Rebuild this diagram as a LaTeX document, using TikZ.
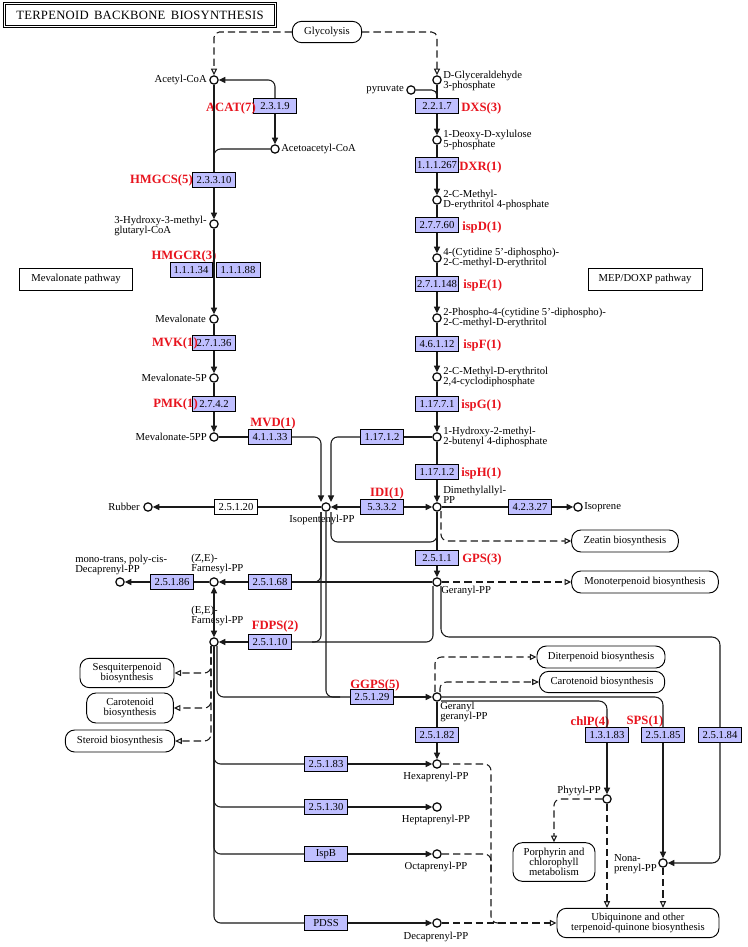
\documentclass[tikz,border=0pt]{standalone}
\usepackage{fontspec}
\setmainfont{Liberation Serif}
\usetikzlibrary{arrows.meta}
\definecolor{enzfill}{HTML}{BFBFFF}
\definecolor{kred}{HTML}{E8141E}
\definecolor{lnc}{HTML}{1A1A1A}
\tikzset{
  cpd/.style={circle,draw=black,fill=white,line width=0.9pt,minimum size=6.2pt,inner sep=0pt},
  enz/.style={draw=black,fill=enzfill,line width=0.7pt,minimum width=32pt,minimum height=11pt,inner sep=0pt,font=\fontsize{8}{9}\selectfont},
  refenz/.style={enz,fill=white},
  mapbox/.style={draw=black,fill=white,line width=0.7pt,rounded corners=7pt,inner sep=0pt,align=center,font=\fontsize{8}{7.5}\selectfont},
  sqbox/.style={mapbox,rounded corners=0pt},
  lab/.style={inner sep=0pt,align=left,font=\fontsize{8}{7.5}\selectfont},
  labc/.style={lab,align=center},
  rlab/.style={inner sep=0pt,text=kred,font=\fontsize{9.5}{10}\selectfont\bfseries},
  rx/.style={line width=0.8pt,draw=lnc},
  dsh/.style={line width=0.8pt,draw=lnc,dash pattern=on 5.5pt off 3pt},
  arr/.style={-{Triangle[length=5pt,width=4.6pt]}},
  oarr/.style={-{Triangle[open,length=5pt,width=4.6pt]}},
  titlebox/.style={draw=black,double=white,line width=0.9pt,double distance=0.9pt,minimum width=203pt,minimum height=17pt,inner sep=0pt,font=\fontsize{9.5}{11}\selectfont}
}
\begin{document}
\begin{tikzpicture}[x=0.75pt,y=-0.75pt]
\useasboundingbox (0,0) rectangle (748,947);
\fill[white] (0,0) rectangle (748,947);

% title and pathway boxes
\node[titlebox] (title) at (140,15) {\addfontfeature{LetterSpace=2}TERPENOID\hspace{4pt}BACKBONE\hspace{4pt}BIOSYNTHESIS};
\node[mapbox,minimum width=52pt,minimum height=16pt] (gly) at (327,32) {Glycolysis};
\node[sqbox,minimum width=85pt,minimum height=16.5pt] (mevpath) at (76,279) {Mevalonate pathway};
\node[sqbox,minimum width=85.5pt,minimum height=16.5pt] (meppath) at (645,279) {MEP/DOXP pathway};
\node[mapbox,minimum width=80pt,minimum height=16.5pt] (zeatin) at (625,541) {Zeatin biosynthesis};
\node[mapbox,minimum width=110pt,minimum height=16.5pt] (monot) at (645,582) {Monoterpenoid biosynthesis};
\node[mapbox,minimum width=96pt,minimum height=16.5pt] (diterp) at (601,657) {Diterpenoid biosynthesis};
\node[mapbox,minimum width=94pt,minimum height=16pt] (carotR) at (602,682) {Carotenoid biosynthesis};
\node[mapbox,minimum width=70.5pt,minimum height=22pt] (sesq) at (127,673) {Sesquiterpenoid\\biosynthesis};
\node[mapbox,minimum width=65pt,minimum height=22.5pt] (carotL) at (130,708) {Carotenoid\\biosynthesis};
\node[mapbox,minimum width=82pt,minimum height=16.5pt] (steroid) at (120,741) {Steroid biosynthesis};
\node[mapbox,minimum width=61.5pt,minimum height=29pt] (porph) at (554,862) {Porphyrin and\\chlorophyll\\metabolism};
\node[mapbox,minimum width=121.5pt,minimum height=22pt] (ubiq) at (638,923) {Ubiquinone and other\\terpenoid-quinone biosynthesis};

% compounds
\node[cpd] (acoa) at (214,80) {};
\node[cpd] (aacoa) at (275,149) {};
\node[cpd] (hmg) at (214,224) {};
\node[cpd] (mev) at (214,319) {};
\node[cpd] (mevp) at (214,378) {};
\node[cpd] (mevpp) at (214,437) {};
\node[cpd] (ipp) at (326,507) {};
\node[cpd] (rubber) at (148,507) {};
\node[cpd] (dmapp) at (437,507) {};
\node[cpd] (isop) at (578,507) {};
\node[cpd] (gpp) at (437,582) {};
\node[cpd] (zefpp) at (214,582) {};
\node[cpd] (mtpc) at (120,582) {};
\node[cpd] (eefpp) at (214,642) {};
\node[cpd] (ggpp) at (437,697) {};
\node[cpd] (hexpp) at (437,764) {};
\node[cpd] (heppp) at (437,807) {};
\node[cpd] (octpp) at (437,854) {};
\node[cpd] (decpp) at (437,923) {};
\node[cpd] (phyt) at (607,799) {};
\node[cpd] (nonpp) at (663,863) {};
\node[cpd] (gap) at (437,80) {};
\node[cpd] (pyr) at (411,90) {};
\node[cpd] (dxp) at (437,140) {};
\node[cpd] (mep) at (437,200) {};
\node[cpd] (cdpme) at (437,258) {};
\node[cpd] (cdpmep) at (437,318) {};
\node[cpd] (mecpp) at (437,377) {};
\node[cpd] (hmbpp) at (437,437) {};

% compound labels
\node[lab,anchor=east] (lacoa) at (207,80) {Acetyl-CoA};
\node[lab,anchor=west] (laacoa) at (281,149) {Acetoacetyl-CoA};
\node[lab,anchor=east] (lhmg) at (207,226) {3-Hydroxy-3-methyl-\\glutaryl-CoA};
\node[lab,anchor=east] (lmev) at (206,319) {Mevalonate};
\node[lab,anchor=east] (lmevp) at (207,378) {Mevalonate-5P};
\node[lab,anchor=east] (lmevpp) at (207,437) {Mevalonate-5PP};
\node[labc] (lipp) at (322,520) {Isopentenyl-PP};
\node[lab,anchor=east] (lrubber) at (140,507) {Rubber};
\node[lab,anchor=west] (ldmapp) at (443,495) {Dimethylallyl-\\PP};
\node[lab,anchor=west] (lisop) at (584,507) {Isoprene};
\node[lab,anchor=west] (lgpp) at (441,591) {Geranyl-PP};
\node[lab,anchor=west] (lzefpp) at (191,564) {(Z,E)-\\Farnesyl-PP};
\node[lab,anchor=west] (lmtpc) at (75,565) {mono-trans, poly-cis-\\Decaprenyl-PP};
\node[lab,anchor=west] (leefpp) at (191,616) {(E,E)-\\Farnesyl-PP};
\node[lab,anchor=west] (lggpp) at (440,712) {Geranyl\\geranyl-PP};
\node[labc] (lhexpp) at (436,777) {Hexaprenyl-PP};
\node[labc] (lheppp) at (436,820) {Heptaprenyl-PP};
\node[labc] (locpp) at (436,867) {Octaprenyl-PP};
\node[labc] (ldecpp) at (436,937) {Decaprenyl-PP};
\node[lab,anchor=east] (lphyt) at (601,791) {Phytyl-PP};
\node[lab,anchor=east] (lnonpp) at (657,864) {Nona-\\prenyl-PP};
\node[lab,anchor=west] (lgap) at (443,81) {D-Glyceraldehyde\\3-phosphate};
\node[lab,anchor=east] (lpyr) at (404,90) {pyruvate};
\node[lab,anchor=west] (ldxp) at (443,140) {1-Deoxy-D-xylulose\\5-phosphate};
\node[lab,anchor=west] (lmep) at (443,200) {2-C-Methyl-\\D-erythritol 4-phosphate};
\node[lab,anchor=west] (lcdpme) at (443,258) {4-(Cytidine 5'-diphospho)-\\2-C-methyl-D-erythritol};
\node[lab,anchor=west] (lcdpmep) at (443,318) {2-Phospho-4-(cytidine 5'-diphospho)-\\2-C-methyl-D-erythritol};
\node[lab,anchor=west] (lmecpp) at (443,377) {2-C-Methyl-D-erythritol\\2,4-cyclodiphosphate};
\node[lab,anchor=west] (lhmbpp) at (443,437) {1-Hydroxy-2-methyl-\\2-butenyl 4-diphosphate};

% enzymes
\node[enz] (eA) at (275,106) {2.3.1.9};
\node[enz] (eB) at (214,180) {2.3.3.10};
\node[enz,minimum width=31.5pt] (eC1) at (191,270) {1.1.1.34};
\node[enz,minimum width=33pt] (eC2) at (238,270) {1.1.1.88};
\node[enz] (eD) at (214,343) {2.7.1.36};
\node[enz] (eE) at (214,404) {2.7.4.2};
\node[enz] (eF) at (270,437) {4.1.1.33};
\node[enz] (eG) at (382,437) {1.17.1.2};
\node[refenz] (eR) at (236,507) {2.5.1.20};
\node[enz] (eI) at (382,507) {5.3.3.2};
\node[enz] (eIs) at (530,507) {4.2.3.27};
\node[enz] (eGPS) at (437,558) {2.5.1.1};
\node[enz] (e68) at (270,582) {2.5.1.68};
\node[enz] (e86) at (172,582) {2.5.1.86};
\node[enz] (e10) at (270,642) {2.5.1.10};
\node[enz] (e29) at (372,697) {2.5.1.29};
\node[enz] (e82) at (437,735) {2.5.1.82};
\node[enz] (e83c) at (607,735) {1.3.1.83};
\node[enz] (e85) at (663,735) {2.5.1.85};
\node[enz] (e84) at (720,735) {2.5.1.84};
\node[enz] (e83) at (326,764) {2.5.1.83};
\node[enz] (e30) at (326,807) {2.5.1.30};
\node[enz] (eIspB) at (326,854) {IspB};
\node[enz] (ePDSS) at (326,923) {PDSS};
\node[enz] (m1) at (437,106) {2.2.1.7};
\node[enz] (m2) at (437,165) {1.1.1.267};
\node[enz] (m3) at (437,225) {2.7.7.60};
\node[enz] (m4) at (437,284) {2.7.1.148};
\node[enz] (m5) at (437,344) {4.6.1.12};
\node[enz] (m6) at (437,404) {1.17.7.1};
\node[enz] (m7) at (437,472) {1.17.1.2};

% red gene labels
\node[rlab,anchor=east] (gACAT) at (256,108) {ACAT(7)};
\node[rlab,anchor=east] (gHMGCS) at (193,180) {HMGCS(5)};
\node[rlab] (gHMGCR) at (184,256) {HMGCR(3)};
\node[rlab,anchor=east] (gMVK) at (198,343) {MVK(1)};
\node[rlab,anchor=east] (gPMK) at (198,404) {PMK(1)};
\node[rlab] (gMVD) at (273,423) {MVD(1)};
\node[rlab,anchor=west] (gDXS) at (461,108) {DXS(3)};
\node[rlab,anchor=west] (gDXR) at (459,167) {DXR(1)};
\node[rlab,anchor=west] (gispD) at (462,227) {ispD(1)};
\node[rlab,anchor=west] (gispE) at (463,285) {ispE(1)};
\node[rlab,anchor=west] (gispF) at (463,345) {ispF(1)};
\node[rlab,anchor=west] (gispG) at (461,405) {ispG(1)};
\node[rlab,anchor=west] (gispH) at (461,473) {ispH(1)};
\node[rlab] (gIDI) at (387,493) {IDI(1)};
\node[rlab,anchor=west] (gGPS) at (462,559) {GPS(3)};
\node[rlab] (gFDPS) at (275,626) {FDPS(2)};
\node[rlab] (gGGPS) at (375,685) {GGPS(5)};
\node[rlab] (gchlP) at (590,722) {chlP(4)};
\node[rlab] (gSPS) at (645,721) {SPS(1)};

% helper coordinates
\coordinate (jA) at (214,168);
\coordinate (pj) at (437,98);
\coordinate (ippL) at (321,502);
\coordinate (ippR) at (331,502);
\coordinate (i1) at (321,512);
\coordinate (i2) at (326,512);
\coordinate (i3) at (331,512);
\coordinate (j68) at (312,582);
\coordinate (j10) at (312,642);
\coordinate (j29) at (340,697);
\coordinate (jGPS) at (437,542);
\coordinate (jGPSu) at (437,534);
\coordinate (g1) at (433,586);
\coordinate (g2) at (441,586);
\coordinate (c84) at (720,637);
\coordinate (e1) at (217,646);
\coordinate (ed) at (211,646);
\coordinate (gd1) at (435,692);
\coordinate (gd2) at (440,692);
\coordinate (gg2) at (441,701);
\coordinate (dz) at (441,511);
\coordinate (dj) at (491,923);
\coordinate (djr) at (499,923);
\coordinate (dj2) at (491,872);

% dashed links to other maps
\draw[dsh,oarr,rounded corners=4pt] (gly.west) -| (acoa);
\draw[dsh,oarr,rounded corners=4pt] (gly.east) -| (gap);
\draw[dsh,oarr,rounded corners=5pt] (dz) |- (zeatin.west);
\draw[dsh,oarr] (gpp) -- (monot.west);
\draw[dsh,oarr,rounded corners=5pt] (gd1) |- (diterp.west);
\draw[dsh,oarr,rounded corners=5pt] (gd2) |- (carotR.west);
\draw[dsh,oarr,rounded corners=5pt] (ed) |- (sesq.east);
\draw[dsh,oarr,rounded corners=5pt] (ed) |- (carotL.east);
\draw[dsh,oarr,rounded corners=5pt] (ed) |- (steroid.east);
\draw[dsh,oarr,rounded corners=5pt] (phyt) -| (porph.north);
\draw[dsh,oarr] (phyt) -- (phyt |- ubiq.north);
\draw[dsh,oarr] (nonpp) -- (nonpp |- ubiq.north);
\draw[dsh,rounded corners=5pt] (hexpp) -| (dj) -- (djr);
\draw[dsh,rounded corners=5pt] (octpp) -| (dj2);
\draw[dsh,oarr] (decpp) -- (ubiq.west);

% mevalonate pathway
\draw[rx,arr,rounded corners=5pt] (eA.north) |- (acoa);
\draw[rx,arr] (eA) -- (aacoa);
\draw[rx,rounded corners=5pt] (aacoa) -| (jA);
\draw[rx] (acoa) -- (eB);
\draw[rx,arr] (eB) -- (hmg);
\draw[rx,arr] (hmg) -- (mev);
\draw[rx] (mev) -- (eD);
\draw[rx,arr] (eD) -- (mevp);
\draw[rx] (mevp) -- (eE);
\draw[rx,arr] (eE) -- (mevpp);
\draw[rx] (mevpp) -- (eF);
\draw[rx,arr,rounded corners=5pt] (eF.east) -| (ippL);

% MEP pathway
\draw[rx] (gap) -- (m1);
\draw[rx,rounded corners=4pt] (pyr) -| (pj);
\draw[rx,arr] (m1) -- (dxp);
\draw[rx] (dxp) -- (m2);
\draw[rx,arr] (m2) -- (mep);
\draw[rx] (mep) -- (m3);
\draw[rx,arr] (m3) -- (cdpme);
\draw[rx] (cdpme) -- (m4);
\draw[rx,arr] (m4) -- (cdpmep);
\draw[rx] (cdpmep) -- (m5);
\draw[rx,arr] (m5) -- (mecpp);
\draw[rx] (mecpp) -- (m6);
\draw[rx,arr] (m6) -- (hmbpp);
\draw[rx] (hmbpp) -- (m7);
\draw[rx,arr] (m7) -- (dmapp);
\draw[rx] (hmbpp) -- (eG);
\draw[rx,arr,rounded corners=5pt] (eG.west) -| (ippR);

% IPP / DMAPP
\draw[rx,arr] (eI) -- (ipp);
\draw[rx,arr] (eI) -- (dmapp);
\draw[rx] (ipp) -- (eR);
\draw[rx,arr] (eR) -- (rubber);
\draw[rx] (dmapp) -- (eIs);
\draw[rx,arr] (eIs) -- (isop);
\draw[rx] (dmapp) -- (eGPS);
\draw[rx,arr] (eGPS) -- (gpp);
\draw[rx,rounded corners=5pt] (i3) |- (jGPS) -- (jGPSu);
\draw[rx,rounded corners=5pt] (i1) |- (j68);
\draw[rx,rounded corners=5pt] (i1) |- (j10);
\draw[rx,rounded corners=5pt] (i2) |- (j29);

% prenyl chain elongation
\draw[rx] (gpp) -- (e68);
\draw[rx,arr] (e68) -- (zefpp);
\draw[rx] (zefpp) -- (e86);
\draw[rx,arr] (e86) -- (mtpc);
\draw[rx,rounded corners=5pt] (g1) |- (e10.east);
\draw[rx,arr] (e10) -- (eefpp);
\draw[rx,{Triangle[length=5pt,width=4.6pt]}-{Triangle[length=5pt,width=4.6pt]}] (eefpp) -- (zefpp);
\draw[rx,rounded corners=6pt] (g2) |- (c84) -- (e84.north);
\draw[rx,arr,rounded corners=6pt] (e84.south) |- (nonpp);
\draw[rx,rounded corners=5pt] (e1) |- (e29.west);
\draw[rx,arr] (e29) -- (ggpp);
\draw[rx] (ggpp) -- (e82);
\draw[rx,arr] (e82) -- (hexpp);
\draw[rx,rounded corners=6pt] (ggpp) -| (e85.north);
\draw[rx,rounded corners=6pt] (gg2) -| (e83c.north);
\draw[rx,arr] (e83c) -- (phyt);
\draw[rx,arr] (e85) -- (nonpp);
\draw[rx,rounded corners=5pt] (eefpp) |- (e83.west);
\draw[rx,rounded corners=5pt] (eefpp) |- (e30.west);
\draw[rx,rounded corners=5pt] (eefpp) |- (eIspB.west);
\draw[rx,rounded corners=5pt] (eefpp) |- (ePDSS.west);
\draw[rx,arr] (e83) -- (hexpp);
\draw[rx,arr] (e30) -- (heppp);
\draw[rx,arr] (eIspB) -- (octpp);
\draw[rx,arr] (ePDSS) -- (decpp);
\end{tikzpicture}
\end{document}
